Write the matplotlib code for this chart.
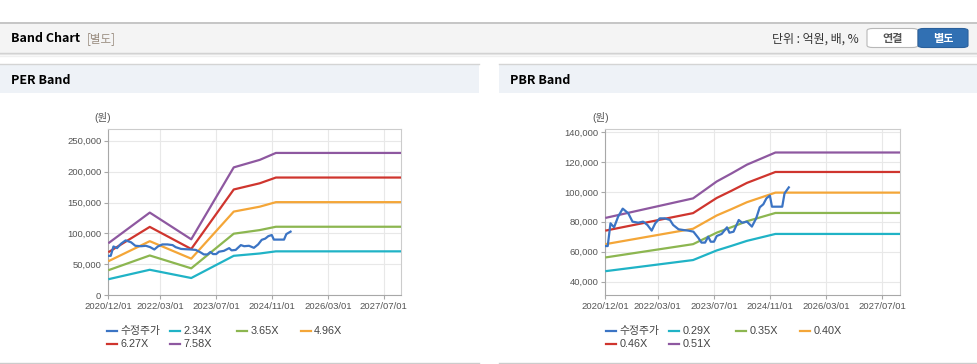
import numpy as np
import pandas as pd
import matplotlib
matplotlib.use('Agg')
import matplotlib.pyplot as plt
import matplotlib.dates as mdates
from matplotlib.patches import Rectangle, FancyBboxPatch
from matplotlib.lines import Line2D
from matplotlib.ticker import FuncFormatter

# figure size in pixels
W, H = 978, 364

# adjusted price (수정주가), same for both panels
price_dates = ['2020-12-01', '2020-12-22', '2021-01-15', '2021-02-15', '2021-03-22', '2021-05-01',
               '2021-06-18', '2021-07-25', '2021-09-12', '2021-10-25', '2021-12-01', '2022-01-07',
               '2022-02-07', '2022-03-18', '2022-05-01', '2022-06-15', '2022-07-12', '2022-08-28',
               '2022-10-10', '2022-11-22', '2023-01-04', '2023-02-18', '2023-03-15', '2023-04-15',
               '2023-05-12', '2023-06-03', '2023-07-01', '2023-07-25', '2023-09-06', '2023-10-22',
               '2023-11-12', '2023-12-18', '2024-02-01', '2024-03-01', '2024-04-12', '2024-05-25',
               '2024-07-01', '2024-08-01', '2024-09-01', '2024-09-28', '2024-10-28', '2024-11-15',
               '2025-01-01', '2025-02-12', '2025-03-04', '2025-04-10']
price_vals = [63800, 63800, 79000, 76300, 83400, 88800,
              85700, 80100, 79400, 80100, 77900, 74100,
              79000, 82300, 82300, 81200, 77900, 75000,
              74500, 74100, 73400, 69000, 66100, 66100,
              70100, 66700, 66700, 70500, 71900, 76300,
              72700, 73400, 81200, 79400, 80100, 76800,
              82300, 89700, 91700, 95700, 97500, 90100,
              90100, 90100, 99000, 103000]

# PER band lines
per_dates = ['2020-12-01', '2021-11-28', '2022-11-25', '2023-12-01', '2024-07-15', '2024-12-03', '2027-11-30']
per_234 = [25970, 41300, 27960, 63880, 67630, 71090, 71090]
per_365 = [40520, 64420, 43620, 99650, 105490, 110890, 110890]
per_496 = [55060, 87540, 59270, 135410, 143340, 150680, 150680]
per_627 = [69600, 110670, 74930, 171170, 181200, 190480, 190480]
per_758 = [84140, 133790, 90580, 206930, 219060, 230280, 230280]
per_labels = ['2.34X', '3.65X', '4.96X', '6.27X', '7.58X']

# PBR band lines
pbr_dates = ['2020-12-01', '2023-01-01', '2023-07-25', '2023-12-01', '2024-04-12', '2024-12-15', '2027-11-30']
pbr_029 = [47000, 54450, 60870, 63950, 67270, 71890, 71890]
pbr_035 = [56170, 65070, 72750, 76430, 80390, 85910, 85910]
pbr_040 = [65050, 75350, 84240, 88510, 93090, 99490, 99490]
pbr_046 = [74080, 85800, 95930, 100780, 106000, 113290, 113290]
pbr_051 = [82580, 95650, 106940, 112350, 118180, 126300, 126300]
pbr_labels = ['0.29X', '0.35X', '0.40X', '0.46X', '0.51X']

x_ticks = ['2020-12-01', '2022-03-01', '2023-07-01', '2024-11-01', '2026-03-01', '2027-07-01']

price_color = '#3b74c4'
band_colors = ['#20b3c6', '#8cb650', '#f4a638', '#cf352e', '#8e58a0']

KR = ['Liberation Sans', 'Noto Sans CJK KR']
KRB = ['Noto Sans CJK KR', 'DejaVu Sans']


def fx(x):
    return x / W


def fy(y):
    return 1 - y / H


fig = plt.figure(figsize=(W / 100, H / 100), dpi=100)
fig.patch.set_facecolor('white')

# header strip
fig.add_artist(Rectangle((0, fy(53)), 1, (53 - 22.5) / H, transform=fig.transFigure,
                         facecolor='#f4f4f4', edgecolor='none'))
fig.add_artist(Line2D([0, 1], [fy(22.5)] * 2, transform=fig.transFigure, color='#c2c2c2', lw=1.3))
fig.add_artist(Line2D([0, 1], [fy(53)] * 2, transform=fig.transFigure, color='#cfcfcf', lw=1.0))
fig.add_artist(Line2D([0, 1], [fy(54.3)] * 2, transform=fig.transFigure, color='#e3e3e3', lw=1.0))
fig.add_artist(Line2D([0, 1], [fy(55.5)] * 2, transform=fig.transFigure, color='#f0f0f0', lw=1.0))

fig.text(fx(11), fy(38.5), 'Band Chart', fontsize=9, fontweight='bold', va='center', family=KRB)
fig.text(fx(87), fy(38.5), '[별도]', fontsize=8.3, va='center', color='#9a8d80', family=KRB)
fig.text(fx(859), fy(39), '단위 : 억원, 배, %', fontsize=8.6, va='center', ha='right', color='#333333', family=KRB)

# buttons
fig.add_artist(FancyBboxPatch((fx(867), fy(47.5)), (918 - 867) / W, (47.5 - 28.5) / H,
                              boxstyle='round,pad=0,rounding_size=0.006', transform=fig.transFigure,
                              facecolor='white', edgecolor='#b8b8b8', lw=0.8))
fig.add_artist(FancyBboxPatch((fx(918), fy(47.5)), (968 - 918) / W, (47.5 - 28.5) / H,
                              boxstyle='round,pad=0,rounding_size=0.006', transform=fig.transFigure,
                              facecolor='#3170b3', edgecolor='#2a609c', lw=0.8))
fig.text(fx(892.5), fy(38.3), '연결', fontsize=8, fontweight='bold', ha='center', va='center',
         color='#555555', family=KRB)
fig.text(fx(943), fy(38.3), '별도', fontsize=8, fontweight='bold', ha='center', va='center',
         color='white', family=KRB)

# panel title bars
for x0, x1, title in [(0, 479, 'PER Band'), (499, 978, 'PBR Band')]:
    fig.add_artist(Rectangle((fx(x0), fy(93)), (x1 - x0) / W, (93 - 64.5) / H, transform=fig.transFigure,
                             facecolor='#eef2f7', edgecolor='none'))
    fig.add_artist(Line2D([fx(x0), fx(x1)], [fy(64.3)] * 2, transform=fig.transFigure, color='#d4d4d4', lw=1.0))
    fig.add_artist(Line2D([fx(x0), fx(x1)], [fy(362.5)] * 2, transform=fig.transFigure, color='#cccccc', lw=1.0))
    fig.text(fx(x0 + 11), fy(80), title, fontsize=9, fontweight='bold', va='center', family=KRB)


def draw_panel(left, right, band_dates, bands, labels, ylim, yticks, unit_x, leg_x):
    ax = fig.add_axes([fx(left), 1 - 295.3 / H, (right - left) / W, (295.3 - 129) / H])
    ax.set_facecolor('white')
    bd = pd.to_datetime(band_dates)
    for vals, c in zip(bands, band_colors):
        ax.plot(bd, vals, color=c, lw=1.6, solid_capstyle='butt', zorder=3)
    ax.plot(pd.to_datetime(price_dates), price_vals, color=price_color, lw=1.6, zorder=4)

    ax.set_xlim(pd.Timestamp('2020-12-01'), pd.Timestamp('2027-11-30'))
    ax.set_ylim(*ylim)
    ax.set_xticks(pd.to_datetime(x_ticks))
    ax.xaxis.set_major_formatter(mdates.DateFormatter('%Y/%m/%d'))
    ax.set_yticks(yticks)
    ax.yaxis.set_major_formatter(FuncFormatter(lambda v, p: f'{int(v):,}'))
    ax.grid(True, color='#e8e8e8', lw=0.8)
    ax.set_axisbelow(True)
    for s in ['top', 'right']:
        ax.spines[s].set_color('#cccccc')
    for s in ['left', 'bottom']:
        ax.spines[s].set_color('#a8a8a8')
    ax.tick_params(labelsize=6.8, labelcolor='#555555', color='#a8a8a8', length=3, width=0.8, pad=2)
    for t in ax.get_xticklabels() + ax.get_yticklabels():
        t.set_family('Liberation Sans')

    fig.text(fx(unit_x), fy(118), '(원)', fontsize=7.5, color='#555555', ha='center', va='center', family=KR)

    # legend, fixed-width columns
    names = ['수정주가'] + labels
    colors = [price_color] + band_colors
    offs = [0, 63.3, 130, 194]
    for i, (n, c) in enumerate(zip(names, colors)):
        xx = leg_x + offs[i % 4]
        yy = 330.7 if i < 4 else 344
        fig.add_artist(Line2D([fx(xx), fx(xx + 10)], [fy(yy)] * 2, transform=fig.transFigure,
                              color=c, lw=1.6))
        fig.text(fx(xx + 13.5), fy(yy), n, fontsize=7.8, color='#444444', va='center', family=KR)
    return ax


draw_panel(108.3, 401, per_dates, [per_234, per_365, per_496, per_627, per_758], per_labels,
           (0, 269000), np.arange(0, 250001, 50000), 102.5, 106.7)
draw_panel(605.3, 900, pbr_dates, [pbr_029, pbr_035, pbr_040, pbr_046, pbr_051], pbr_labels,
           (30900, 142000), np.arange(40000, 140001, 20000), 600.5, 606)

fig.savefig('out.png', dpi=100, facecolor=fig.get_facecolor())
